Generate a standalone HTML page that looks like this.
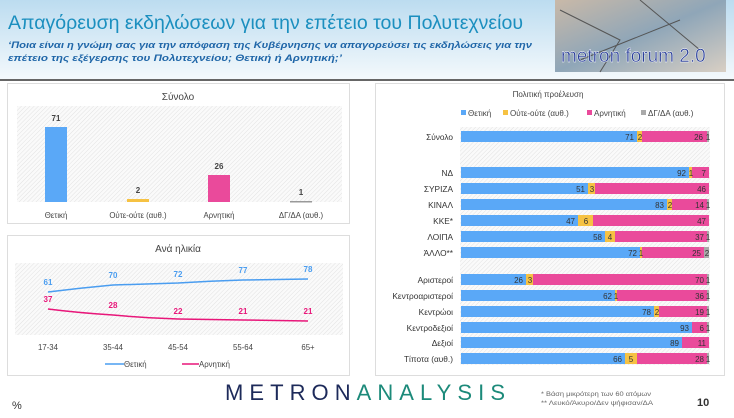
<!DOCTYPE html>
<html><head><meta charset="utf-8"><style>
body{margin:0;width:734px;height:413px;overflow:hidden;background:#fff;font-family:"Liberation Sans","DejaVu Sans",sans-serif}
</style></head><body>
<svg width="734" height="413" xmlns="http://www.w3.org/2000/svg" font-family="Liberation Sans, DejaVu Sans, sans-serif">
<defs>
<linearGradient id="hg" x1="0" y1="0" x2="0" y2="1"><stop offset="0" stop-color="#bcdcf0"/><stop offset="1" stop-color="#f4f9fc"/></linearGradient>
<linearGradient id="img" x1="0" y1="0" x2="1" y2="1"><stop offset="0" stop-color="#c9b9a8"/><stop offset="0.5" stop-color="#8fa6b8"/><stop offset="1" stop-color="#d8cfc4"/></linearGradient>
<pattern id="hat" width="3" height="3" patternUnits="userSpaceOnUse" patternTransform="rotate(45)"><rect width="3" height="3" fill="#fafafa"/><line x1="0" y1="0" x2="0" y2="3" stroke="#e2e2e2" stroke-width="1"/></pattern>
</defs>
<rect x="0" y="0" width="734" height="80" fill="url(#hg)"/>
<rect x="0" y="79" width="734" height="2" fill="#666"/>
<text x="8" y="29" font-size="19.5" fill="#1b8fbf" textLength="515" lengthAdjust="spacingAndGlyphs">Απαγόρευση εκδηλώσεων για την επέτειο του Πολυτεχνείου</text>
<text x="8" y="48" font-size="9" font-style="italic" font-weight="bold" fill="#1f66a8" textLength="524" lengthAdjust="spacingAndGlyphs">‘Ποια είναι η γνώμη σας για την απόφαση της Κυβέρνησης να απαγορεύσει τις εκδηλώσεις για την</text>
<text x="8" y="61" font-size="9" font-style="italic" font-weight="bold" fill="#1f66a8" textLength="334" lengthAdjust="spacingAndGlyphs">επέτειο της εξέγερσης του Πολυτεχνείου; Θετική ή Αρνητική;’</text>
<rect x="555" y="0" width="171" height="72" fill="url(#img)"/>
<path d="M560 10 L620 40 L600 72 M640 0 L700 50 M580 60 L680 20" stroke="#555" stroke-width="1" fill="none"/>
<text x="561" y="62" font-size="19" fill="#2a3f9a" stroke="#fff" stroke-width="0.4">metron forum 2.0</text>

<!-- Panel 1 -->
<rect x="7.5" y="83.5" width="342" height="140" fill="#fff" stroke="#ddd"/>
<text x="178" y="100" font-size="10" fill="#444" text-anchor="middle">Σύνολο</text>
<rect x="17" y="106" width="325" height="96" fill="url(#hat)"/>
<rect x="45" y="127" width="22" height="75" fill="#5aa8f7"/>
<rect x="127" y="199" width="22" height="3" fill="#f6c243"/>
<rect x="208" y="175" width="22" height="27" fill="#ea4a9b"/>
<rect x="290" y="201" width="22" height="1.5" fill="#999"/>
<g font-size="8" font-weight="bold" fill="#444" text-anchor="middle">
<text x="56" y="121">71</text><text x="138" y="193">2</text><text x="219" y="169">26</text><text x="301" y="195">1</text></g>
<g font-size="7.8" fill="#444" text-anchor="middle">
<text x="56" y="218">Θετική</text><text x="138" y="218">Ούτε-ούτε (αυθ.)</text><text x="219" y="218">Αρνητική</text><text x="301" y="218">ΔΓ/ΔΑ (αυθ.)</text></g>

<!-- Panel 2 -->
<rect x="7.5" y="235.5" width="342" height="140" fill="#fff" stroke="#ddd"/>
<text x="178" y="252" font-size="10" fill="#444" text-anchor="middle">Ανά ηλικία</text>
<rect x="15" y="263" width="328" height="72" fill="url(#hat)"/>
<path d="M48 292 Q80 288 113 285 L178 283 Q210 281 243 280 L308 279" stroke="#4a9df0" stroke-width="1.5" fill="none"/>
<path d="M48 309 Q80 313 113 315 Q145 318 178 319 L243 320 L308 321" stroke="#e8177a" stroke-width="1.5" fill="none"/>
<g font-size="8" font-weight="bold" fill="#4a9df0" text-anchor="middle">
<text x="48" y="285">61</text><text x="113" y="278">70</text><text x="178" y="277">72</text><text x="243" y="273">77</text><text x="308" y="272">78</text></g>
<g font-size="8" font-weight="bold" fill="#e8177a" text-anchor="middle">
<text x="48" y="302">37</text><text x="113" y="308">28</text><text x="178" y="314">22</text><text x="243" y="314">21</text><text x="308" y="314">21</text></g>
<g font-size="7.8" fill="#444" text-anchor="middle">
<text x="48" y="350">17-34</text><text x="113" y="350">35-44</text><text x="178" y="350">45-54</text><text x="243" y="350">55-64</text><text x="308" y="350">65+</text></g>
<line x1="105" y1="364" x2="124" y2="364" stroke="#4a9df0" stroke-width="1.5"/>
<text x="124" y="367" font-size="7.8" fill="#444">Θετική</text>
<line x1="182" y1="364" x2="199" y2="364" stroke="#e8177a" stroke-width="1.5"/>
<text x="199" y="367" font-size="7.8" fill="#444">Αρνητική</text>

<!-- Panel 3 -->
<rect x="375.5" y="83.5" width="349" height="292" fill="#fff" stroke="#ddd"/>
<text x="548" y="97" font-size="8" fill="#444" text-anchor="middle">Πολιτική προέλευση</text>
<g font-size="8" fill="#444">
<rect x="461" y="110" width="5" height="5" fill="#5aa8f7"/><text x="468" y="116">Θετική</text>
<rect x="503" y="110" width="5" height="5" fill="#f6c243"/><text x="510" y="116">Ούτε-ούτε (αυθ.)</text>
<rect x="587" y="110" width="5" height="5" fill="#ea4a9b"/><text x="594" y="116">Αρνητική</text>
<rect x="641" y="110" width="5" height="5" fill="#aaa"/><text x="648" y="116">ΔΓ/ΔΑ (αυθ.)</text></g>
<rect x="460" y="127" width="250" height="238" fill="url(#hat)"/>
<g font-size="8.3" fill="#333" text-anchor="end">
<text x="453" y="140">Σύνολο</text><text x="453" y="176">ΝΔ</text><text x="453" y="192">ΣΥΡΙΖΑ</text><text x="453" y="208">ΚΙΝΑΛ</text><text x="453" y="224">ΚΚΕ*</text><text x="453" y="240">ΛΟΙΠΑ</text><text x="453" y="256">ΆΛΛΟ**</text>
<text x="453" y="283">Αριστεροί</text><text x="453" y="299">Κεντροαριστεροί</text><text x="453" y="315">Κεντρώοι</text><text x="453" y="331">Κεντροδεξιοί</text><text x="453" y="346">Δεξιοί</text><text x="453" y="362">Τίποτα (αυθ.)</text></g>
<g>
<rect x="461" y="131" width="176" height="11" fill="#5aa8f7"/><rect x="637" y="131" width="5" height="11" fill="#f6c243"/><rect x="642" y="131" width="65" height="11" fill="#ea4a9b"/><rect x="707" y="131" width="2" height="11" fill="#aaa"/>
<rect x="461" y="167" width="228" height="11" fill="#5aa8f7"/><rect x="689" y="167" width="3" height="11" fill="#f6c243"/><rect x="692" y="167" width="17" height="11" fill="#ea4a9b"/>
<rect x="461" y="183" width="127" height="11" fill="#5aa8f7"/><rect x="588" y="183" width="7" height="11" fill="#f6c243"/><rect x="595" y="183" width="114" height="11" fill="#ea4a9b"/>
<rect x="461" y="199" width="206" height="11" fill="#5aa8f7"/><rect x="667" y="199" width="5" height="11" fill="#f6c243"/><rect x="672" y="199" width="35" height="11" fill="#ea4a9b"/><rect x="707" y="199" width="2" height="11" fill="#aaa"/>
<rect x="461" y="215" width="117" height="11" fill="#5aa8f7"/><rect x="578" y="215" width="15" height="11" fill="#f6c243"/><rect x="593" y="215" width="116" height="11" fill="#ea4a9b"/>
<rect x="461" y="231" width="144" height="11" fill="#5aa8f7"/><rect x="605" y="231" width="10" height="11" fill="#f6c243"/><rect x="615" y="231" width="92" height="11" fill="#ea4a9b"/><rect x="707" y="231" width="2" height="11" fill="#aaa"/>
<rect x="461" y="247" width="179" height="11" fill="#5aa8f7"/><rect x="640" y="247" width="2" height="11" fill="#f6c243"/><rect x="642" y="247" width="62" height="11" fill="#ea4a9b"/><rect x="704" y="247" width="5" height="11" fill="#aaa"/>
<rect x="461" y="274" width="65" height="11" fill="#5aa8f7"/><rect x="526" y="274" width="7" height="11" fill="#f6c243"/><rect x="533" y="274" width="174" height="11" fill="#ea4a9b"/><rect x="707" y="274" width="2" height="11" fill="#aaa"/>
<rect x="461" y="290" width="154" height="11" fill="#5aa8f7"/><rect x="615" y="290" width="2" height="11" fill="#f6c243"/><rect x="617" y="290" width="90" height="11" fill="#ea4a9b"/><rect x="707" y="290" width="2" height="11" fill="#aaa"/>
<rect x="461" y="306" width="193" height="11" fill="#5aa8f7"/><rect x="654" y="306" width="5" height="11" fill="#f6c243"/><rect x="659" y="306" width="48" height="11" fill="#ea4a9b"/><rect x="707" y="306" width="2" height="11" fill="#aaa"/>
<rect x="461" y="322" width="231" height="11" fill="#5aa8f7"/><rect x="692" y="322" width="15" height="11" fill="#ea4a9b"/><rect x="707" y="322" width="2" height="11" fill="#aaa"/>
<rect x="461" y="337" width="221" height="11" fill="#5aa8f7"/><rect x="682" y="337" width="27" height="11" fill="#ea4a9b"/>
<rect x="461" y="353" width="164" height="11" fill="#5aa8f7"/><rect x="625" y="353" width="12" height="11" fill="#f6c243"/><rect x="637" y="353" width="70" height="11" fill="#ea4a9b"/><rect x="707" y="353" width="2" height="11" fill="#aaa"/>
</g>
<g font-size="8" fill="#333" text-anchor="end">
<text x="634" y="140">71</text><text x="703" y="140">26</text>
<text x="686" y="176">92</text><text x="706" y="176">7</text>
<text x="585" y="192">51</text><text x="706" y="192">46</text>
<text x="664" y="208">83</text><text x="704" y="208">14</text>
<text x="575" y="224">47</text><text x="706" y="224">47</text>
<text x="602" y="240">58</text><text x="704" y="240">37</text>
<text x="637" y="256">72</text><text x="701" y="256">25</text>
<text x="523" y="283">26</text><text x="704" y="283">70</text>
<text x="612" y="299">62</text><text x="704" y="299">36</text>
<text x="651" y="315">78</text><text x="704" y="315">19</text>
<text x="689" y="331">93</text><text x="704" y="331">6</text>
<text x="679" y="346">89</text><text x="706" y="346">11</text>
<text x="622" y="362">66</text><text x="704" y="362">28</text>
</g>
<g font-size="8" fill="#333" text-anchor="middle">
<text x="640" y="140">2</text><text x="691" y="176">1</text><text x="592" y="192">3</text><text x="670" y="208">2</text><text x="586" y="224">6</text><text x="610" y="240">4</text><text x="641" y="256">1</text>
<text x="530" y="283">3</text><text x="616" y="299">1</text><text x="657" y="315">2</text><text x="631" y="362">5</text>
<text x="708" y="140">1</text><text x="708" y="208">1</text><text x="708" y="240">1</text><text x="707" y="256">2</text><text x="708" y="283">1</text><text x="708" y="299">1</text><text x="708" y="315">1</text><text x="708" y="331">1</text><text x="708" y="362">1</text>
</g>

<!-- Footer -->
<text x="12" y="409" font-size="11" fill="#333">%</text>
<text x="225" y="400" font-size="22" fill="#1d2a5a" textLength="280" lengthAdjust="spacing">METRON<tspan fill="#1c8a7a">ANALYSIS</tspan></text>
<text x="541" y="396" font-size="6.3" fill="#666" textLength="110" lengthAdjust="spacingAndGlyphs">*  Βάση μικρότερη των 60 ατόμων</text>
<text x="541" y="405" font-size="6.3" fill="#666" textLength="112" lengthAdjust="spacingAndGlyphs">** Λευκό/Άκυρο/Δεν ψήφισαν/ΔΑ</text>
<text x="697" y="406" font-size="11" font-weight="bold" fill="#333">10</text>
</svg>
</body></html>
